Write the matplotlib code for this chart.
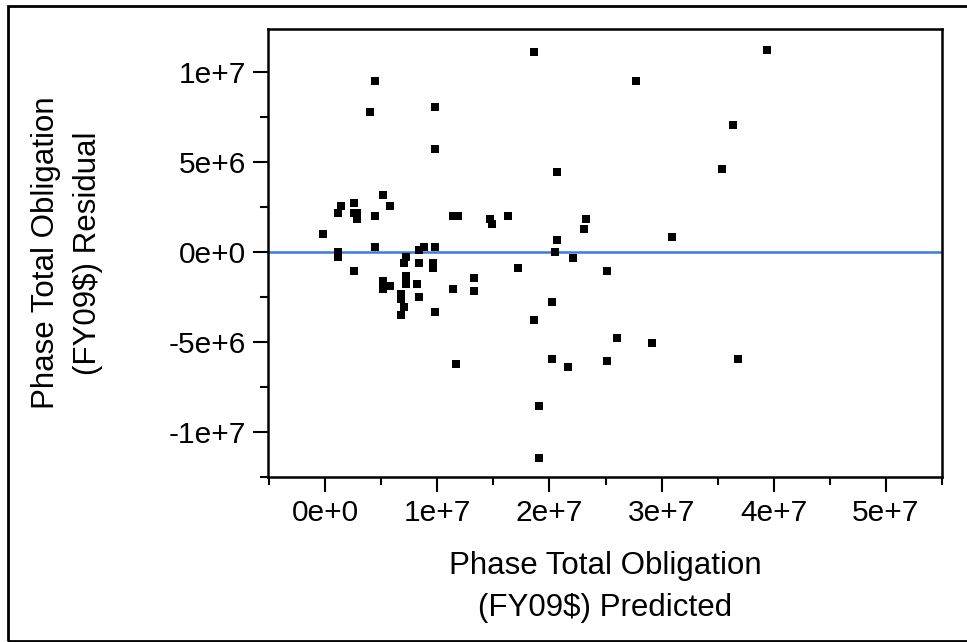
import matplotlib.pyplot as plt
from matplotlib.patches import Rectangle
from matplotlib.ticker import MultipleLocator, FixedLocator, FixedFormatter

plt.rcParams['font.family'] = ['Liberation Sans', 'DejaVu Sans']

# Predicted (x) and residual (y) values, in millions of FY09$
predicted = [4.43, 3.96, 9.77, 9.77, 5.12, 1.39, 2.56, 5.81, 1.16, 2.56,
             2.80, 2.80, 4.43, 11.44, 11.80, 14.66, 14.89, -0.24, 4.43, 8.40,
             8.81, 9.77, 1.16, 1.16, 7.24, 7.03, 8.40, 9.57, 9.57, 2.56,
             5.12, 5.12, 5.81, 7.24, 7.24, 8.16, 6.76, 6.76, 8.40, 7.03,
             6.76, 9.77, 11.41, 13.28, 13.28, 11.65, 18.62, 27.68, 20.70, 16.32,
             23.27, 23.06, 20.70, 30.93, 20.50, 22.11, 17.22, 25.12, 20.26, 18.62,
             26.04, 29.11, 20.26, 21.66, 25.12, 19.10, 19.10, 39.36, 36.32, 35.37,
             36.80]
residual = [9.51, 7.79, 8.07, 5.75, 3.16, 2.58, 2.73, 2.58, 2.16, 2.16,
            2.16, 1.86, 2.01, 2.01, 2.01, 1.86, 1.58, 1.01, 0.29, 0.14,
            0.29, 0.29, -0.01, -0.29, -0.29, -0.60, -0.60, -0.60, -0.88, -1.03,
            -1.60, -2.04, -1.88, -1.31, -1.75, -1.75, -2.31, -2.60, -2.47, -3.04,
            -3.49, -3.32, -2.03, -1.46, -2.18, -6.21, 11.10, 9.51, 4.46, 2.01,
            1.86, 1.29, 0.69, 0.84, -0.01, -0.31, -0.88, -1.03, -2.75, -3.77,
            -4.77, -5.07, -5.92, -6.36, -6.07, -8.53, -11.42, 11.25, 7.07, 4.60,
            -5.93]

x_ticks = [0, 1e7, 2e7, 3e7, 4e7, 5e7]
x_labels = ['0e+0', '1e+7', '2e+7', '3e+7', '4e+7', '5e+7']
y_ticks = [-1e7, -5e6, 0, 5e6, 1e7]
y_labels = ['-1e+7', '-5e+6', '0e+0', '5e+6', '1e+7']

fig = plt.figure(figsize=(9.67, 6.42), dpi=100)
ax = fig.add_axes([268 / 967, 165 / 642, 674 / 967, 448 / 642])

xs = [v * 1e6 for v in predicted]
ys = [v * 1e6 for v in residual]
ax.axhline(0, color='#3a7ddc', lw=1.8, zorder=1)
ax.scatter(xs, ys, marker='s', s=30, c='black', linewidths=0, zorder=2)

ax.set_xlim(-5.1e6, 5.5e7)
ax.set_ylim(-1.25e7, 1.24e7)
ax.xaxis.set_major_locator(FixedLocator(x_ticks))
ax.xaxis.set_major_formatter(FixedFormatter(x_labels))
ax.yaxis.set_major_locator(FixedLocator(y_ticks))
ax.yaxis.set_major_formatter(FixedFormatter(y_labels))
ax.xaxis.set_minor_locator(MultipleLocator(5e6))
ax.yaxis.set_minor_locator(MultipleLocator(2.5e6))

ax.tick_params(which='major', length=11, width=1.5, labelsize=21.5, pad=5)
ax.tick_params(which='minor', length=6, width=1.5)
for s in ax.spines.values():
    s.set_linewidth(1.8)

ax.set_xlabel('Phase Total Obligation\n(FY09$) Predicted', fontsize=22.5,
              linespacing=1.5, va='center')
ax.set_ylabel('Phase Total Obligation\n(FY09$) Residual', fontsize=22.5,
              linespacing=1.5, va='center')
ax.xaxis.set_label_coords(0.5, -0.245)
ax.yaxis.set_label_coords(-0.298, 0.5)

# outer frame around the figure
fig.patches.append(Rectangle((8 / 967, 1 / 642), 1.1, 635 / 642,
                             transform=fig.transFigure, fill=False,
                             edgecolor='black', lw=2))

fig.savefig('out.png', dpi=100)
